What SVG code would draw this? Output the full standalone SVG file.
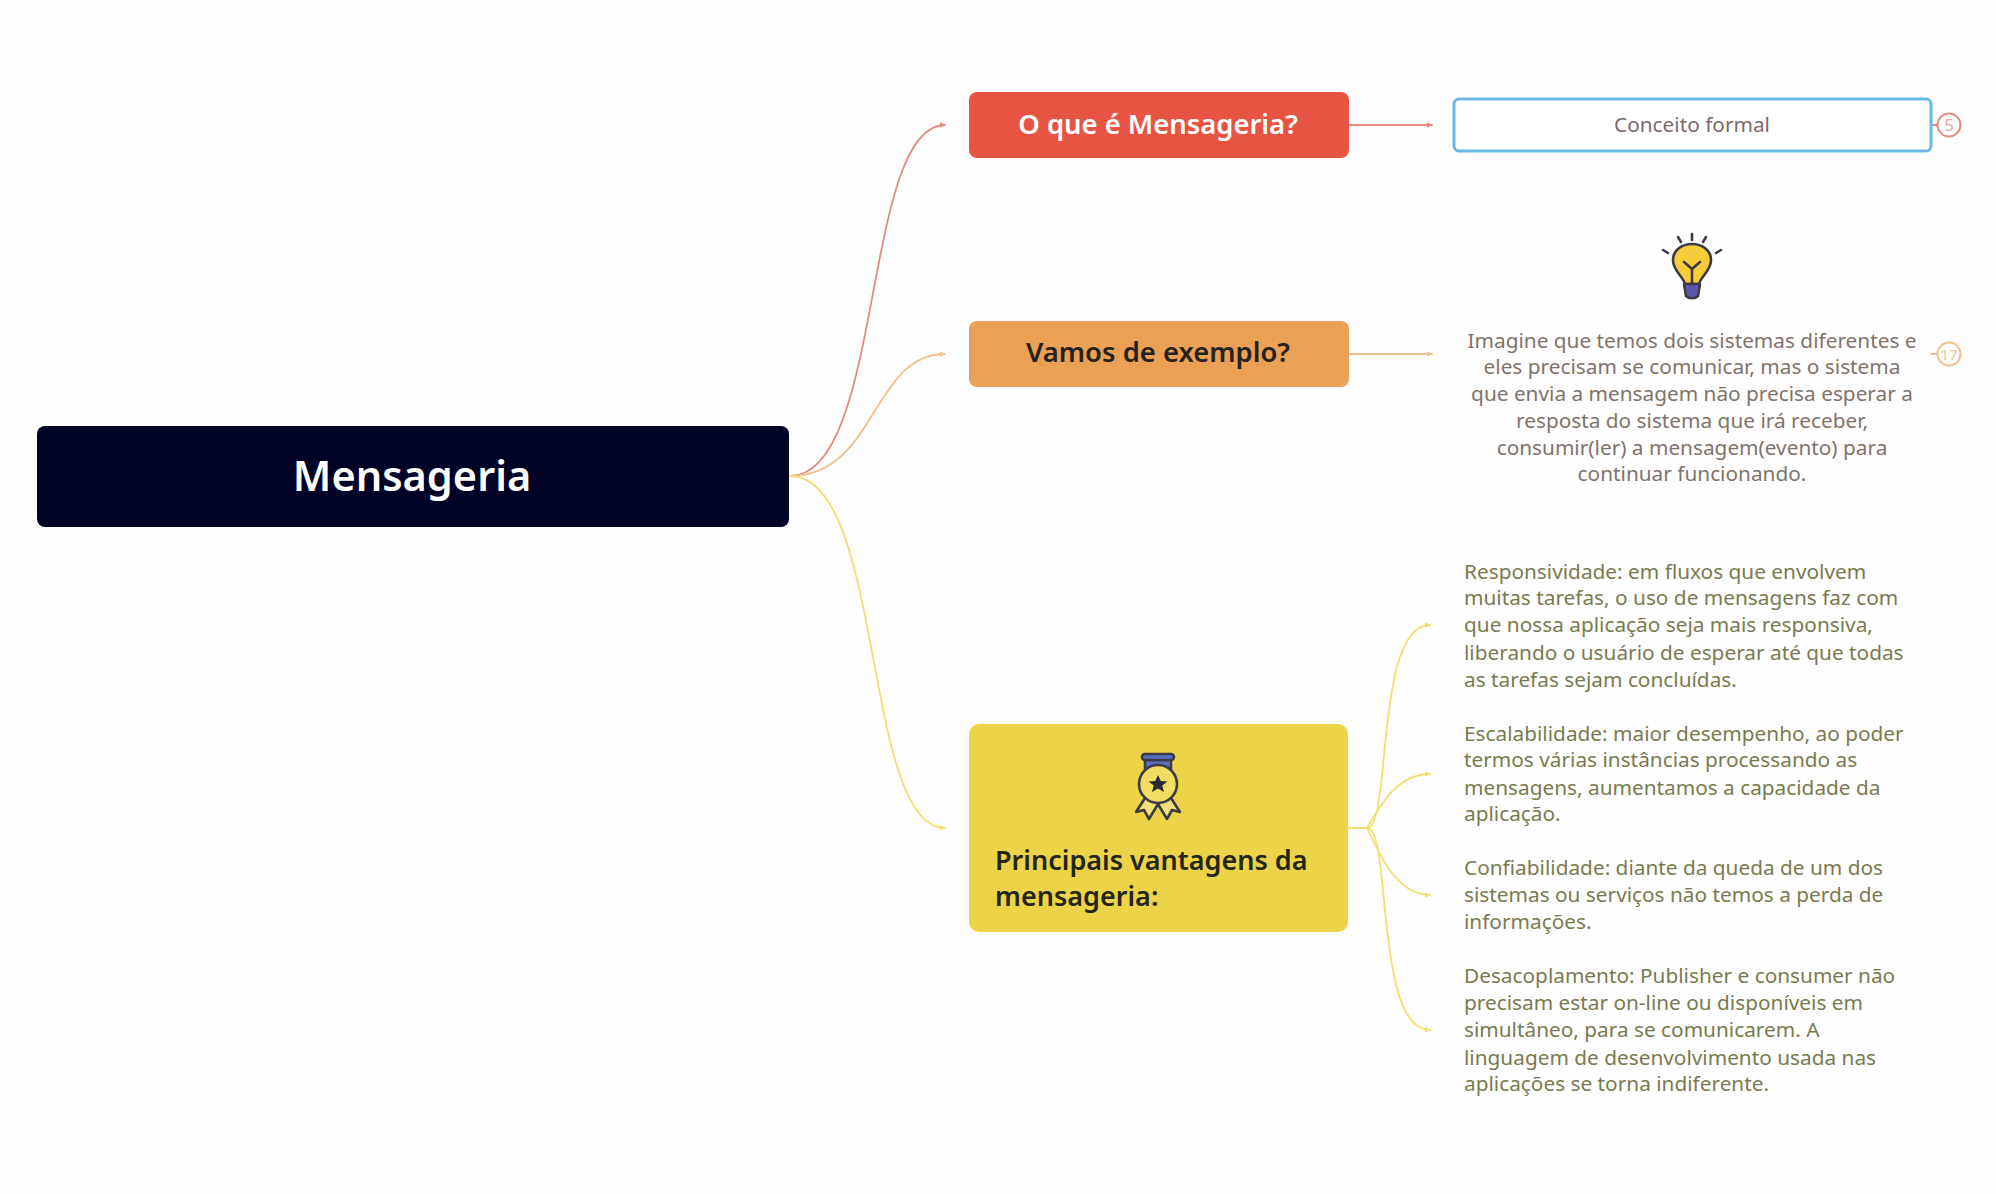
<svg xmlns="http://www.w3.org/2000/svg" width="1996" height="1194" viewBox="0 0 1996 1194">
<style>
text{font-family:"Noto Sans","Liberation Sans",sans-serif}
.node{font-weight:600}
.c{fill:none;stroke-width:1.8;stroke-linecap:round}
.r{stroke:#e58a80}.o{stroke:#f0c190}.y{stroke:#f2df72}
.body{font-size:20.8px}
.ol{fill:#7a7a50}.br{fill:#80736a}
.m{text-anchor:middle}
.ico{stroke:#3d3a45;stroke-width:2.6;stroke-linejoin:round;stroke-linecap:round}
</style>
<defs>
<marker id="mr" markerWidth="5" markerHeight="6" refX="3" refY="3" orient="auto"><path d="M0 1.3L3.5 3L0 4.7z" fill="#e58a80"/></marker>
<marker id="mo" markerWidth="5" markerHeight="6" refX="3" refY="3" orient="auto"><path d="M0 1.3L3.5 3L0 4.7z" fill="#f0c190"/></marker>
<marker id="my" markerWidth="5" markerHeight="6" refX="3" refY="3" orient="auto"><path d="M0 1.3L3.5 3L0 4.7z" fill="#f2df72"/></marker>
</defs>
<rect width="1996" height="1194" fill="#fefefe"/>
<g id="connectors">
<path class="c r" marker-end="url(#mr)" d="M790 476C884 476 862 125 945 125"/>
<path class="c o" marker-end="url(#mo)" d="M790 476C876 476 872 354 945 354"/>
<path class="c y" marker-end="url(#my)" d="M790 476C885 476 862 828 945 828"/>
<path class="c r" marker-end="url(#mr)" d="M1349 125H1432"/>
<path class="c o" marker-end="url(#mo)" d="M1349 354H1432"/>
<path class="c r" d="M1931 125H1937"/>
<path class="c o" d="M1931 354H1937"/>
<path class="c y" marker-end="url(#my)" d="M1348 828H1367C1392 828 1374 625 1430 625"/>
<path class="c y" marker-end="url(#my)" d="M1367 828C1378 810 1395 774 1430 774"/>
<path class="c y" marker-end="url(#my)" d="M1367 828C1378 850 1395 895 1430 895"/>
<path class="c y" marker-end="url(#my)" d="M1367 828C1392 828 1374 1030 1430 1030"/>
</g>
<g id="root">
<rect x="37" y="426" width="752" height="101" rx="8" fill="#000226"/>
<text class="m node" x="412" y="491" font-size="41.5" fill="#fff">Mensageria</text>
</g>
<g id="n-oque">
<rect x="969" y="92" width="380" height="66" rx="8" fill="#e85444"/>
<text class="m node" x="1158" y="134" font-size="27.4" fill="#fff">O que é Mensageria?</text>
</g>
<g id="n-exemplo">
<rect x="969" y="321" width="380" height="66" rx="8" fill="#eaa055"/>
<text class="m node" x="1158" y="362" font-size="27.4" fill="#26221e">Vamos de exemplo?</text>
</g>
<g id="n-vantagens">
<rect x="969" y="724" width="379" height="208" rx="10" fill="#edd348"/>
<g id="medal" transform="translate(1158 784)">
<path d="M-13-24H13V-13L8-8H-8L-13-13z" fill="#5a6fc4" class="ico"/>
<rect x="-16" y="-30" width="32" height="6" rx="3" fill="#5a6fc4" class="ico"/>
<path d="M-11 11L-22 28L-14 26L-9 35L0 20L9 35L14 26L22 28L11 11z" fill="#f3e07c" class="ico"/>
<circle r="19" cy="0" fill="#f3dc62" class="ico"/>
<path d="M0-9L2.8-3L9.4-2.6L4.3 1.5L6 8L0 4.4L-6 8L-4.3 1.5L-9.4-2.6L-2.8-3z" fill="#2b2a30"/>
</g>
<text class="node" x="995" y="870" font-size="27" fill="#26251a">Principais vantagens da</text>
<text class="node" x="995" y="906" font-size="27" fill="#26251a">mensageria:</text>
</g>
<g id="n-conceito">
<rect x="1454" y="99" width="477" height="52" rx="5" fill="#fff" stroke="#6bb9e6" stroke-width="3"/>
<text class="m body" x="1692" y="132" fill="#7a6a6a">Conceito formal</text>
<circle cx="1949" cy="125" r="11.5" fill="none" stroke="#e58a80" stroke-width="2"/>
<text class="m" x="1949" y="131" font-size="17" fill="#e5a8a0">5</text>
</g>
<g id="n-exemplo-text">
<g id="bulb" transform="translate(1692 267)">
<path d="M0-33V-27M-14-30L-11-25M14-30L11-25M-29-17L-24-14M29-17L24-14" fill="none" class="ico" stroke-width="3.2"/>
<path d="M-7 17C-9 9-19 4-19-7C-19-17-10-23 0-23C10-23 19-17 19-7C19 4 9 9 7 17z" fill="#f7cd3c" class="ico"/>
<path d="M-8-5L0 2L8-5M0 2V17" fill="none" class="ico" stroke-width="2"/>
<path d="M-8 17H8L6 29C3 32-3 32-6 29z" fill="#5b58ad" class="ico"/>
</g>
<text class="m body br"><tspan x="1692" y="348">Imagine que temos dois sistemas diferentes e</tspan><tspan x="1692" y="374">eles precisam se comunicar, mas o sistema</tspan><tspan x="1692" y="401">que envia a mensagem não precisa esperar a</tspan><tspan x="1692" y="428">resposta do sistema que irá receber,</tspan><tspan x="1692" y="455">consumir(ler) a mensagem(evento) para</tspan><tspan x="1692" y="481">continuar funcionando.</tspan></text>
<circle cx="1949" cy="354" r="11.5" fill="none" stroke="#f0c190" stroke-width="2"/>
<text class="m" x="1949" y="360" font-size="15" fill="#eec69a">17</text>
</g>
<g id="n-resp"><text class="body ol"><tspan x="1464" y="579">Responsividade: em fluxos que envolvem</tspan><tspan x="1464" y="605">muitas tarefas, o uso de mensagens faz com</tspan><tspan x="1464" y="632">que nossa aplicação seja mais responsiva,</tspan><tspan x="1464" y="660">liberando o usuário de esperar até que todas</tspan><tspan x="1464" y="687">as tarefas sejam concluídas.</tspan></text></g>
<g id="n-esc"><text class="body ol"><tspan x="1464" y="741">Escalabilidade: maior desempenho, ao poder</tspan><tspan x="1464" y="767">termos várias instâncias processando as</tspan><tspan x="1464" y="795">mensagens, aumentamos a capacidade da</tspan><tspan x="1464" y="821">aplicação.</tspan></text></g>
<g id="n-conf"><text class="body ol"><tspan x="1464" y="875">Confiabilidade: diante da queda de um dos</tspan><tspan x="1464" y="902">sistemas ou serviços não temos a perda de</tspan><tspan x="1464" y="929">informações.</tspan></text></g>
<g id="n-desac"><text class="body ol"><tspan x="1464" y="983">Desacoplamento: Publisher e consumer não</tspan><tspan x="1464" y="1010">precisam estar on-line ou disponíveis em</tspan><tspan x="1464" y="1037">simultâneo, para se comunicarem. A</tspan><tspan x="1464" y="1065">linguagem de desenvolvimento usada nas</tspan><tspan x="1464" y="1091">aplicações se torna indiferente.</tspan></text></g>
</svg>
